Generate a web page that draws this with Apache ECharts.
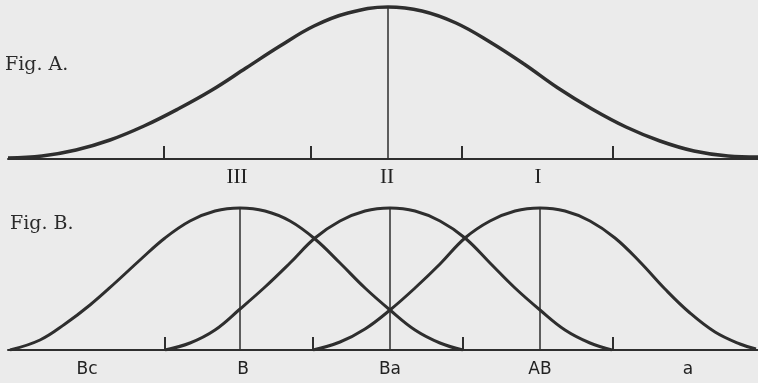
<!DOCTYPE html>
<html>
<head>
<meta charset="utf-8">
<script src="https://cdn.jsdelivr.net/npm/echarts@6/dist/echarts.min.js"></script>
<style>
  html, body { margin: 0; padding: 0; background: #ebebeb; }
  #chart { width: 758px; height: 383px; }
</style>
</head>
<body>
<div id="chart"></div>
<script>
// Fig. A: one wide curve, [x, height]
var curveA = [[8, 1], [42, 3], [76, 9], [110, 19], [144, 33], [178, 50], [212, 69], [246, 91],
  [280, 113], [314, 133], [348, 146], [388, 152], [422, 148], [456, 136], [490, 117], [524, 95],
  [558, 71], [592, 50], [626, 32], [660, 18], [694, 8], [728, 3], [758, 2]];
var peakA = [[388, 152]];
var ticksA = [164, 311, 462, 613];
var labelPosA = [237, 387, 538];
var labelsA = ['III', 'II', 'I'];

// Fig. B: three overlapping curves
var curveB = [[10, 0], [40, 10], [65, 26], [90, 45], [115, 67], [140, 90], [165, 112], [190, 129],
  [215, 139], [240, 142], [265, 139], [290, 129], [315, 111], [340, 87], [365, 62], [390, 40],
  [415, 20], [440, 7], [463, 0]];
var curveBa = [[165, 0], [190, 7], [215, 20], [240, 41], [265, 63], [290, 87], [315, 112], [340, 129],
  [365, 139], [390, 142], [415, 139], [440, 129], [465, 112], [490, 87], [515, 62], [540, 40],
  [565, 20], [590, 7], [612, 0]];
var curveAB = [[313, 0], [340, 8], [365, 21], [390, 40], [415, 62], [440, 86], [465, 112], [490, 129],
  [515, 139], [540, 142], [565, 139], [590, 129], [615, 112], [640, 88], [665, 61], [690, 37],
  [715, 18], [740, 6], [756, 1]];
var peaksB = [[240, 142], [390, 142], [540, 142]];
var ticksB = [165, 313, 463, 613];
var labelPosB = [87, 243, 390, 540, 688];
var labelsB = ['Bc', 'B', 'Ba', 'AB', 'a'];

var ink = '#2e2e2e';

function lookup(pos, names) {
  var m = {};
  for (var i = 0; i < pos.length; i++) m[pos[i]] = names[i];
  return function (v) { return m[v] || ''; };
}

function peakLines(peaks) {
  return peaks.map(function (p) {
    return [{ coord: [p[0], 0] }, { coord: [p[0], p[1]] }];
  });
}

function curve(data, grid, width, peaks) {
  var s = {
    type: 'line',
    xAxisIndex: grid, yAxisIndex: grid,
    data: data,
    smooth: 0.4,
    symbol: 'none',
    lineStyle: { color: ink, width: width },
    silent: true
  };
  if (peaks) {
    s.markLine = {
      symbol: 'none', silent: true, label: { show: false },
      lineStyle: { color: ink, width: 1.5, type: 'solid' },
      data: peakLines(peaks)
    };
  }
  return s;
}

function xAxis(grid, ticks, labelPos, names, font, size, margin) {
  return {
    gridIndex: grid, type: 'value', min: 8, max: 758,
    splitLine: { show: false },
    axisLine: { lineStyle: { color: ink, width: 2 } },
    axisTick: { show: true, inside: true, length: 13, customValues: ticks, lineStyle: { color: ink, width: 2 } },
    axisLabel: {
      customValues: labelPos, formatter: lookup(labelPos, names),
      fontFamily: font, fontSize: size, color: '#222', margin: margin
    }
  };
}

var chart = echarts.init(document.getElementById('chart'));
chart.setOption({
  backgroundColor: '#ebebeb',
  animation: false,
  title: [
    { text: 'Fig. A.', left: 5, top: 56, padding: 0, textStyle: { fontFamily: 'DejaVu Serif', fontSize: 19, fontWeight: 'normal', color: '#2a2a2a' } },
    { text: 'Fig. B.', left: 10, top: 215, padding: 0, textStyle: { fontFamily: 'DejaVu Serif', fontSize: 19, fontWeight: 'normal', color: '#2a2a2a' } }
  ],
  grid: [
    { left: 8, right: 0, top: 0, height: 159 },
    { left: 8, right: 0, top: 190, height: 160 }
  ],
  xAxis: [
    xAxis(0, ticksA, labelPosA, labelsA, 'Liberation Serif', 21, 8),
    xAxis(1, ticksB, labelPosB, labelsB, 'DejaVu Sans', 17, 11)
  ],
  yAxis: [
    { gridIndex: 0, type: 'value', min: 0, max: 159, show: false },
    { gridIndex: 1, type: 'value', min: 0, max: 160, show: false }
  ],
  series: [
    curve(curveA, 0, 3.5, peakA),
    curve(curveB, 1, 3, peaksB),
    curve(curveBa, 1, 3),
    curve(curveAB, 1, 3)
  ]
});
</script>
</body>
</html>
